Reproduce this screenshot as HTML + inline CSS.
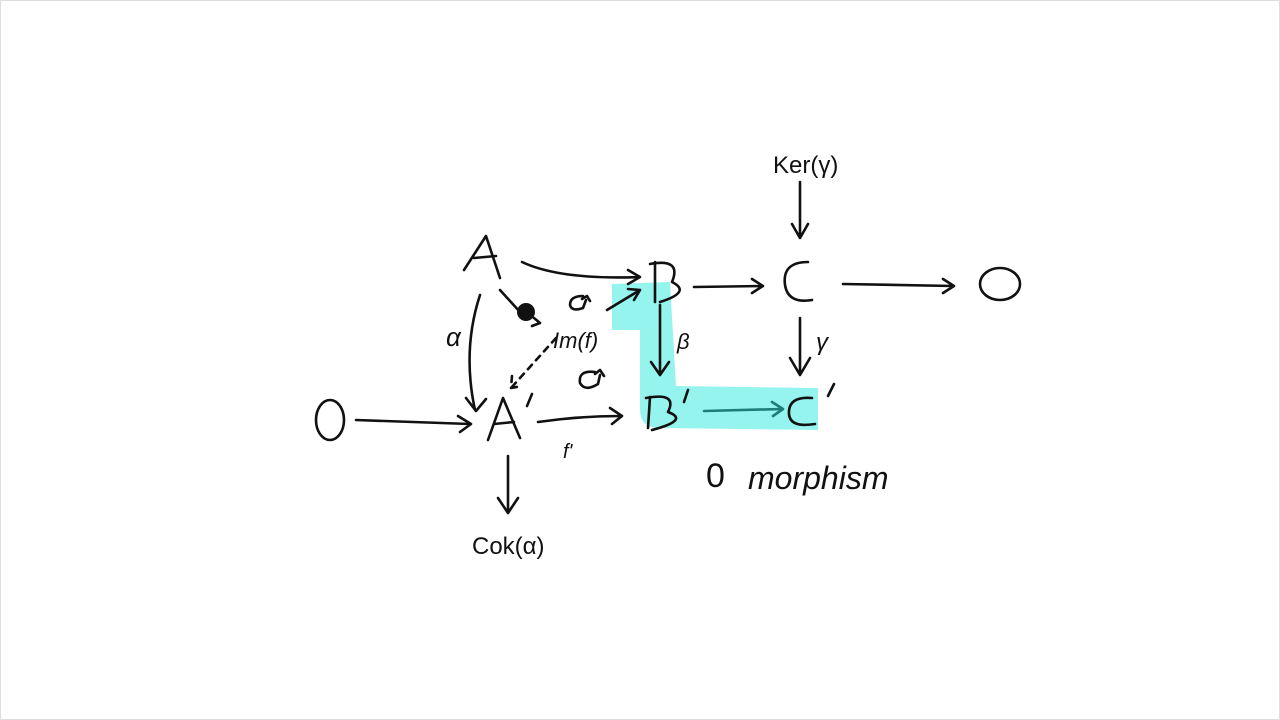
<!DOCTYPE html>
<html><head><meta charset="utf-8"><style>
html,body{margin:0;padding:0;background:#fff;}
svg{display:block}
text{font-family:"Liberation Sans",sans-serif;fill:#111;}
</style></head><body>
<svg width="1280" height="720" viewBox="0 0 1280 720" xmlns="http://www.w3.org/2000/svg">
<rect x="0" y="0" width="1280" height="720" fill="#fff"/>
<rect x="0.5" y="0.5" width="1279" height="719" fill="none" stroke="#ddd"/>
<!-- highlight -->
<path d="M612 284 L670 282 L676 386 L818 388 L818 430 L660 428 Q640 428 640 410 L640 330 L612 330 Z" fill="#96f4ef"/>
<g fill="none" stroke="#111" stroke-width="2.6" stroke-linecap="round" stroke-linejoin="round">
<!-- A -->
<path d="M464 270 L486 236 L500 278 M474 258 L496 256"/>
<!-- B -->
<path d="M655 262 L655 302 M650 264 Q682 258 672 282 Q692 292 660 302"/>
<!-- C -->
<path d="M808 262 Q782 262 785 285 Q788 304 812 300"/>
<!-- 0 right -->
<ellipse cx="1000" cy="284" rx="20" ry="16"/>
<!-- 0 left -->
<ellipse cx="330" cy="420" rx="14" ry="20"/>
<!-- A' -->
<path d="M488 440 L503 398 L520 438 M494 424 L514 422 M532 394 L527 406"/>
<!-- B' -->
<path d="M650 397 L648 428 M646 398 Q678 392 668 412 Q690 420 652 430 M688 390 L684 402"/>
<!-- C' -->
<path d="M812 398 Q788 396 789 414 Q790 428 815 424 M834 384 L828 396"/>
<!-- arrows -->
<path d="M522 262 Q560 280 640 277 M628 270 L640 277 L628 284"/>
<path d="M694 287 L762 286 M752 279 L763 286 L752 293"/>
<path d="M843 284 L953 286 M943 279 L954 286 L943 293"/>
<path d="M480 295 Q462 350 475 410 M466 398 L476 411 L486 399"/>
<path d="M500 290 L520 312"/>
<path d="M534 318 L540 323 L532 326"/>
<path d="M556 338 L511 388 M512 376 L511 388 L522 386" stroke-dasharray="6 6"/>
<path d="M607 310 L640 290 M628 289 L640 290 L634 300"/>
<path d="M660 305 L660 372 M651 362 L660 375 L669 362"/>
<path d="M800 318 L800 372 M790 358 L800 375 L810 358"/>
<path d="M800 182 L800 236 M792 224 L800 238 L808 224"/>
<path d="M356 420 L470 424 M458 416 L471 424 L460 432"/>
<path d="M538 422 Q580 416 620 416 M610 408 L622 416 L612 424"/>
<path d="M704 411 L782 409 M772 402 L783 409 L773 416" stroke="#1d7d78"/>
<path d="M508 456 L508 512 M498 498 L508 513 L518 498"/>
<!-- circle arrows -->
<path d="M583 296 Q570 296 570 305 Q572 312 583 308 L586 300 M582 299 L587 296 L590 301"/>
<path d="M595 372 Q578 370 580 383 Q585 392 598 384 L600 375 M595 374 L600 370 L604 376"/>
</g>
<circle cx="526" cy="312" r="9" fill="#111"/>
<!-- labels -->
<text x="446" y="346" font-size="26" font-style="italic">α</text>
<text x="677" y="349" font-size="22" font-style="italic">β</text>
<text x="816" y="350" font-size="24" font-style="italic">γ</text>
<text x="553" y="348" font-size="22" font-style="italic">Im(f)</text>
<text x="563" y="458" font-size="20" font-style="italic">f'</text>
<text x="773" y="173" font-size="24">Ker(γ)</text>
<text x="472" y="554" font-size="24">Cok(α)</text>
<text x="706" y="487" font-size="34">0</text>
<text x="748" y="489" font-size="32" font-style="italic">morphism</text>
</svg>
</body></html>
